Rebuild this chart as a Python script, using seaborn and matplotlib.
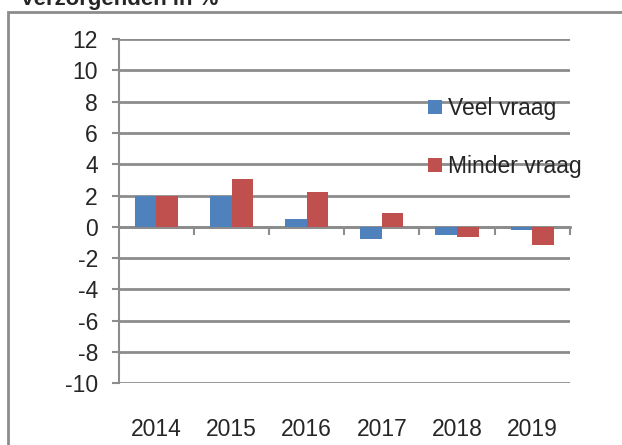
import pandas as pd
import matplotlib
import matplotlib.pyplot as plt
import seaborn as sns
from matplotlib.patches import Rectangle

matplotlib.use('Agg')

# Gegevens: verzorgenden in %
jaren = ['2014', '2015', '2016', '2017', '2018', '2019']
veel_vraag = [2.0, 1.95, 0.5, -0.77, -0.53, -0.2]
minder_vraag = [2.0, 3.05, 2.25, 0.9, -0.68, -1.15]
reeksen = ['Veel vraag', 'Minder vraag']
kleuren = ['#4F81BD', '#C0504D']
y_ticks = list(range(-10, 13, 2))

df = pd.DataFrame({
    'jaar': jaren * 2,
    'waarde': veel_vraag + minder_vraag,
    'reeks': [reeksen[0]] * len(jaren) + [reeksen[1]] * len(jaren),
})

sns.set_style('white')
plt.rcParams['font.family'] = ['Liberation Sans', 'DejaVu Sans']
fontsize = 16.5
grijs = '#8c8c8c'

fig = plt.figure(figsize=(6.22, 4.45), dpi=100)
ax = fig.add_axes([0.191, 0.139, 0.725, 0.773])

sns.barplot(data=df, x='jaar', y='waarde', hue='reeks', palette=kleuren,
            width=0.575, saturation=1, linewidth=0, ax=ax, zorder=3)

ax.set_ylim(-10, 12)
ax.set_xlim(-0.5, len(jaren) - 0.5)
ax.set_yticks(y_ticks)
ax.set_yticklabels([str(t) for t in y_ticks], fontsize=fontsize)
ax.set_xlabel('')
ax.set_ylabel('')

# horizontale rasterlijnen
ax.set_axisbelow(True)
ax.yaxis.grid(True, color=grijs, linewidth=2)
ax.xaxis.grid(False)

for s in ['top', 'right', 'bottom']:
    ax.spines[s].set_visible(False)
ax.spines['left'].set_color(grijs)
ax.spines['left'].set_linewidth(1.5)
ax.tick_params(axis='y', direction='out', length=5, width=1.5, color=grijs,
               left=True, pad=10)
ax.tick_params(axis='x', length=0, pad=25, labelsize=fontsize)

# x-as op de nullijn met streepjes tussen de categorieën
zero_pos = (0 - ax.get_ylim()[0]) / (ax.get_ylim()[1] - ax.get_ylim()[0])
sec = ax.secondary_xaxis(zero_pos)
sec.set_xticks([i + 0.5 for i in range(len(jaren))])
sec.set_xticklabels([])
sec.tick_params(direction='out', length=6, width=1.5, color=grijs)
sec.spines['bottom'].set_color(grijs)
sec.spines['bottom'].set_linewidth(2)

leg = ax.legend(loc='upper left', bbox_to_anchor=(0.665, 0.858), frameon=False,
                fontsize=fontsize, handlelength=0.6, handleheight=0.6,
                handletextpad=0.3, labelspacing=1.52, borderaxespad=0)

# titel (half afgesneden) en kader
fig.text(0.032, 1 - 5 / 445, 'Verzorgenden in %', fontsize=16,
         fontweight='bold', va='baseline', ha='left')
fig.patches.append(Rectangle((8 / 622, -0.1), 1.2, 1 - 12 / 445 + 0.1,
                             transform=fig.transFigure, fill=False,
                             edgecolor=grijs, linewidth=2))

plt.savefig('out.png', dpi=100)
